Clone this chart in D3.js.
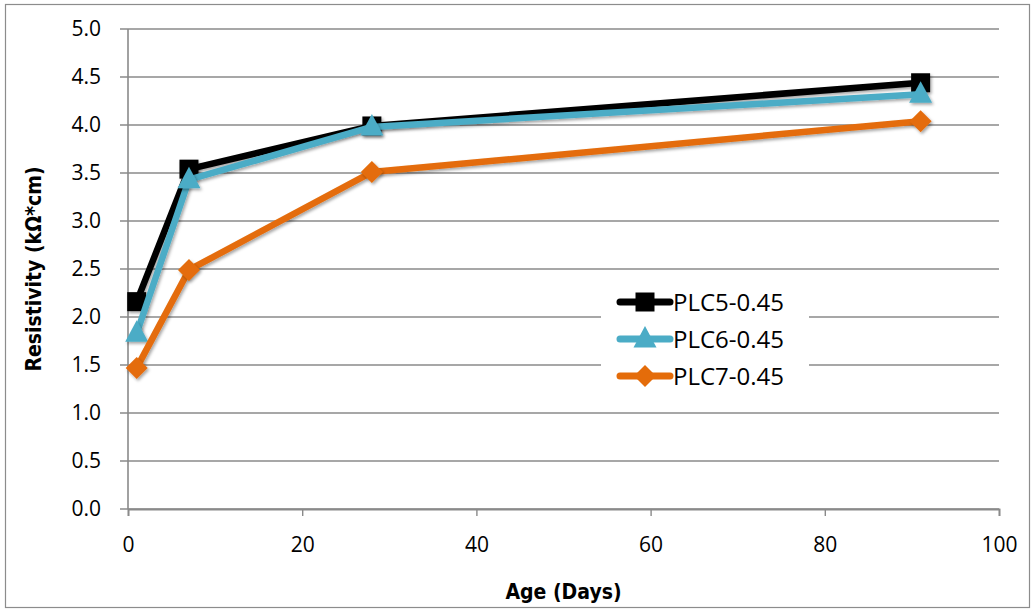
<!DOCTYPE html>
<html><head><meta charset="utf-8">
<script src="https://cdn.jsdelivr.net/npm/d3@7"></script>
<style>body{margin:0;background:#fff}svg{display:block}</style>
</head><body>
<svg id="c" width="1033" height="611"></svg>
<script>
const days = [1, 7, 28, 91];
const seriesNames = ["PLC5-0.45", "PLC6-0.45", "PLC7-0.45"];
const plc5 = [2.16, 3.54, 3.99, 4.44];
const plc6 = [1.83, 3.43, 3.98, 4.32];
const plc7 = [1.47, 2.49, 3.51, 4.04];
const xTicks = [0, 20, 40, 60, 80, 100];
const yTicks = [0, 0.5, 1, 1.5, 2, 2.5, 3, 3.5, 4, 4.5, 5];
const colors = ["#000000", "#4BACC6", "#E46C0A"];
const values = [plc5, plc6, plc7];

const svg = d3.select("#c");
svg.append("rect").attr("x",5.5).attr("y",4.5).attr("width",1024).attr("height",603)
  .attr("fill","#fff").attr("stroke","#8c8c8c").attr("stroke-width",1.2);

const x = d3.scaleLinear().domain([0,100]).range([128,999]);
const y = d3.scaleLinear().domain([0,5]).range([509,29]);
const font = "'Open Sans',sans-serif";
const tfont = "'DejaVu Sans Condensed','Open Sans',sans-serif";

const squarePath = "M-9.5,-9.5H9.5V9.5H-9.5Z";
const triPath = "M0,-13L11.5,8.5H-11.5Z";
const diaPath = "M0,-11L11,0L0,11L-11,0Z";
const shapes = [squarePath, triPath, diaPath];

svg.append("g").selectAll("line").data(yTicks).join("line")
  .attr("x1", x(0)-8).attr("x2", x(100)).attr("y1", d=>y(d)).attr("y2", d=>y(d))
  .attr("stroke","#8a8a8a").attr("stroke-width",1.6);

svg.append("line").attr("x1",x(0)).attr("x2",x(0)).attr("y1",y(5)).attr("y2",y(0))
  .attr("stroke","#8a8a8a").attr("stroke-width",1.6);

const xa = svg.append("g").attr("transform",`translate(0,${y(0)})`)
  .call(d3.axisBottom(x).tickValues(xTicks).tickSize(7).tickPadding(21).tickFormat(d3.format("d")));
xa.select(".domain").attr("stroke","#8a8a8a").attr("stroke-width",1.8);
xa.selectAll(".tick line").attr("stroke","#8a8a8a").attr("stroke-width",1.4);
xa.selectAll("text").attr("font-family",font).attr("font-size",21).attr("fill","#000");

const ya = svg.append("g").attr("transform",`translate(${x(0)},0)`)
  .call(d3.axisLeft(y).tickValues(yTicks).tickSize(0).tickPadding(27).tickFormat(d3.format(".1f")));
ya.select(".domain").remove();
ya.selectAll("text").attr("font-family",font).attr("font-size",21).attr("fill","#000");

const lg = svg.append("g");
lg.append("rect").attr("x",601).attr("y",282).attr("width",208).attr("height",112).attr("fill","#fff");

const line = d3.line().x((d,i)=>x(days[i])).y(d=>y(d));
const shadow = svg.append("defs").append("filter").attr("id","sh").attr("x","-50%").attr("y","-50%").attr("width","200%").attr("height","200%");
shadow.append("feDropShadow").attr("dx",1.5).attr("dy",2).attr("stdDeviation",1.5).attr("flood-color","#000").attr("flood-opacity",0.35);

values.forEach((vals, k) => {
  const g = svg.append("g");
  g.append("path").datum(vals).attr("d", line).attr("fill","none")
    .attr("stroke", colors[k]).attr("stroke-width",6.5).attr("stroke-linejoin","round").attr("stroke-linecap","round")
    .attr("filter","url(#sh)");
  g.selectAll("path.m").data(vals).join("path").attr("class","m")
    .attr("transform",(d,i)=>`translate(${x(days[i])},${y(d)})`)
    .attr("d", shapes[k]).attr("fill", colors[k]).attr("filter","url(#sh)");
});

seriesNames.forEach((n,k)=>{
  const yy = 302 + k*37;
  lg.append("line").attr("x1",620).attr("x2",670).attr("y1",yy).attr("y2",yy)
    .attr("stroke",colors[k]).attr("stroke-width",7).attr("stroke-linecap","round");
  lg.append("path").attr("transform",`translate(645,${yy})`).attr("d", shapes[k]).attr("fill",colors[k]);
  lg.append("text").attr("x",673).attr("y",yy).attr("dy","0.36em")
    .attr("font-family",font).attr("font-size",24).attr("fill","#000").text(n);
});

svg.append("text").attr("x",(x(0)+x(100))/2).attr("y",599).attr("text-anchor","middle")
  .attr("font-family",tfont).attr("font-weight","bold").attr("font-size",21).text("Age (Days)");
svg.append("text").attr("transform",`translate(41,${(y(0)+y(5))/2}) rotate(-90)`).attr("text-anchor","middle")
  .attr("font-family",tfont).attr("font-weight","bold").attr("font-size",21).text("Resistivity (kΩ*cm)");
</script>
</body></html>
